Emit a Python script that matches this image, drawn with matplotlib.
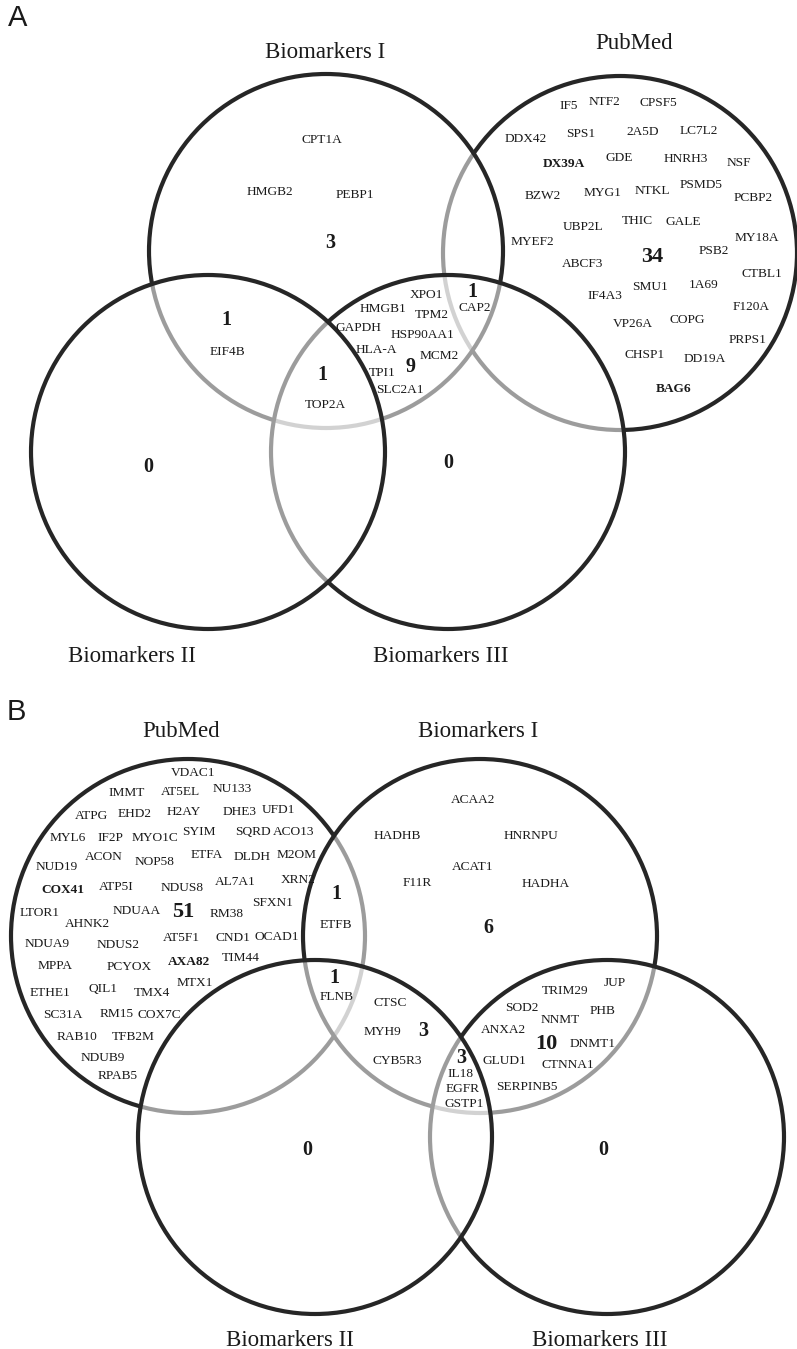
import matplotlib
matplotlib.use('Agg')
import matplotlib.pyplot as plt
from matplotlib.patches import Circle

# ---- panel A: genes per region
a_bi_only = ['CPT1A', 'HMGB2', 'PEBP1']
a_bi_bii = ['EIF4B']
a_bi_bii_biii = ['TOP2A']
a_bi_biii = ['XPO1', 'HMGB1', 'TPM2', 'GAPDH', 'HSP90AA1', 'HLA-A', 'MCM2', 'TPI1', 'SLC2A1']
a_bi_pub_biii = ['CAP2']
a_pub_only = ['IF5', 'NTF2', 'CPSF5', 'DDX42', 'SPS1', '2A5D', 'LC7L2', 'DX39A', 'GDE',
              'HNRH3', 'NSF', 'BZW2', 'MYG1', 'NTKL', 'PSMD5', 'PCBP2', 'UBP2L', 'THIC',
              'GALE', 'MYEF2', 'MY18A', 'PSB2', 'ABCF3', 'CTBL1', 'SMU1', '1A69', 'IF4A3',
              'F120A', 'VP26A', 'COPG', 'PRPS1', 'CHSP1', 'DD19A', 'BAG6']
a_bii_only = []
a_biii_only = []

# ---- panel B: genes per region
b_pub_only = ['VDAC1', 'IMMT', 'AT5EL', 'NU133', 'ATPG', 'EHD2', 'H2AY', 'DHE3', 'UFD1',
              'MYL6', 'IF2P', 'MYO1C', 'SYIM', 'SQRD', 'ACO13', 'ACON', 'NOP58', 'ETFA',
              'DLDH', 'M2OM', 'NUD19', 'COX41', 'ATP5I', 'NDUS8', 'AL7A1', 'XRN2', 'LTOR1',
              'AHNK2', 'NDUAA', 'RM38', 'SFXN1', 'NDUA9', 'NDUS2', 'AT5F1', 'CND1', 'OCAD1',
              'MPPA', 'PCYOX', 'AXA82', 'TIM44', 'MTX1', 'ETHE1', 'QIL1', 'TMX4', 'SC31A',
              'RM15', 'COX7C', 'RAB10', 'TFB2M', 'NDUB9', 'RPAB5']
b_bi_only = ['ACAA2', 'HADHB', 'HNRNPU', 'ACAT1', 'F11R', 'HADHA']
b_pub_bi = ['ETFB']
b_pub_bi_bii = ['FLNB']
b_bi_bii = ['CTSC', 'MYH9', 'CYB5R3']
b_bi_bii_biii = ['IL18', 'EGFR', 'GSTP1']
b_bi_biii = ['TRIM29', 'JUP', 'SOD2', 'PHB', 'NNMT', 'ANXA2', 'DNMT1', 'GLUD1', 'CTNNA1',
             'SERPINB5']
b_bii_only = []
b_biii_only = []

bold_genes = ['DX39A', 'BAG6', 'COX41', 'AXA82']

# ---- layout (pixels, origin top-left)
a_circles = {'PubMed': (620, 253), 'Biomarkers I': (326, 251),
             'Biomarkers III': (448, 452), 'Biomarkers II': (208, 452)}
b_circles = {'PubMed': (188, 936), 'Biomarkers I': (480, 936),
             'Biomarkers III': (607, 1137), 'Biomarkers II': (315, 1137)}
radius = 177
a_titles = {'Biomarkers I': (325, 58), 'PubMed': (634, 49),
            'Biomarkers II': (132, 662), 'Biomarkers III': (441, 662)}
b_titles = {'PubMed': (181, 737), 'Biomarkers I': (478, 737),
            'Biomarkers II': (290, 1346), 'Biomarkers III': (600, 1346)}

a_layout = [
    (a_bi_only, [(322, 140), (270, 192), (355, 195)], (330, 243)),
    (a_bi_bii, [(227, 352)], (226, 320)),
    (a_bi_bii_biii, [(325, 405)], (322, 375)),
    (a_bi_biii, [(426, 295), (383, 309), (432, 315), (358, 328), (423, 335),
                 (376, 350), (439, 356), (382, 373), (400, 390)], (411, 367)),
    (a_bi_pub_biii, [(475, 308)], (472, 292)),
    (a_pub_only, [(569, 106), (605, 102), (658, 103), (526, 139), (581, 134), (643, 132),
                  (699, 131), (564, 164), (619, 158), (686, 159), (739, 163), (543, 196),
                  (603, 193), (652, 191), (701, 185), (753, 198), (583, 227), (637, 221),
                  (683, 222), (532, 242), (757, 238), (714, 251), (583, 264), (762, 274),
                  (650, 287), (704, 285), (605, 296), (751, 307), (633, 324), (687, 320),
                  (748, 340), (645, 355), (705, 359), (674, 389)], (652, 257)),
    (a_bii_only, [], (148, 467)),
    (a_biii_only, [], (448, 463)),
]

b_layout = [
    (b_pub_only, [(193, 773), (127, 793), (180, 792), (232, 789), (92, 816), (135, 814),
                  (184, 812), (240, 812), (278, 810), (68, 838), (110, 838), (155, 838),
                  (199, 832), (253, 832), (294, 832), (104, 857), (155, 862), (207, 855),
                  (252, 857), (297, 855), (57, 867), (63, 890), (116, 887), (182, 888),
                  (235, 882), (298, 880), (40, 913), (87, 924), (137, 911), (227, 914),
                  (273, 903), (47, 944), (118, 945), (181, 938), (233, 938), (277, 937),
                  (55, 966), (129, 967), (189, 962), (241, 958), (195, 983), (50, 993),
                  (103, 989), (152, 993), (63, 1015), (117, 1014), (159, 1015), (77, 1037),
                  (133, 1037), (103, 1058), (118, 1076)], (183, 912)),
    (b_bi_only, [(473, 800), (397, 836), (531, 836), (473, 867), (417, 883), (546, 884)],
     (488, 928)),
    (b_pub_bi, [(336, 925)], (336, 894)),
    (b_pub_bi_bii, [(337, 997)], (334, 978)),
    (b_bi_bii, [(390, 1003), (383, 1032), (397, 1061)], (423, 1031)),
    (b_bi_bii_biii, [(461, 1074), (463, 1089), (464, 1104)], (461, 1058)),
    (b_bi_biii, [(565, 991), (615, 983), (522, 1008), (603, 1011), (560, 1020), (503, 1030),
                 (593, 1044), (504, 1061), (568, 1065), (527, 1087)], (546, 1044)),
    (b_bii_only, [], (307, 1150)),
    (b_biii_only, [], (603, 1150)),
]

draw_order = ['PubMed', 'Biomarkers I', 'Biomarkers III', 'Biomarkers II']

fig = plt.figure(figsize=(7.97, 13.49), dpi=100)
ax = fig.add_axes([0, 0, 1, 1])
ax.set_xlim(0, 797)
ax.set_ylim(1349, 0)
ax.axis('off')

serif = 'Liberation Serif'


def draw_panel(circles, titles, layout):
    # later circles get a half transparent white fill, which fades earlier outlines
    for z, name in enumerate(draw_order):
        c = Circle(circles[name], radius, facecolor=(1, 1, 1, 0.55),
                   edgecolor='#262626', linewidth=3, zorder=2 + z)
        ax.add_patch(c)
    for name, (x, y) in titles.items():
        ax.text(x, y, name, ha='center', va='baseline', fontsize=16.5,
                family=serif, color='#1a1a1a', zorder=20)
    for genes, xy, cxy in layout:
        n = len(genes)
        ax.text(cxy[0], cxy[1], str(n), ha='center', va='center',
                fontsize=16 if n >= 10 else 14.5, fontweight='bold',
                family=serif, color='#1a1a1a', zorder=20)
        for g, (x, y) in zip(genes, xy):
            ax.text(x, y, g, ha='center', va='center', fontsize=9.6,
                    fontweight='bold' if g in bold_genes else 'normal',
                    family=serif, color='#1a1a1a', zorder=20)


draw_panel(a_circles, a_titles, a_layout)
draw_panel(b_circles, b_titles, b_layout)

ax.text(18, 18, 'A', ha='center', va='center', fontsize=21,
        family='Liberation Sans', color='#1a1a1a')
ax.text(16, 712, 'B', ha='center', va='center', fontsize=21,
        family='Liberation Sans', color='#1a1a1a')

fig.savefig('out.png', dpi=100, facecolor='white')
